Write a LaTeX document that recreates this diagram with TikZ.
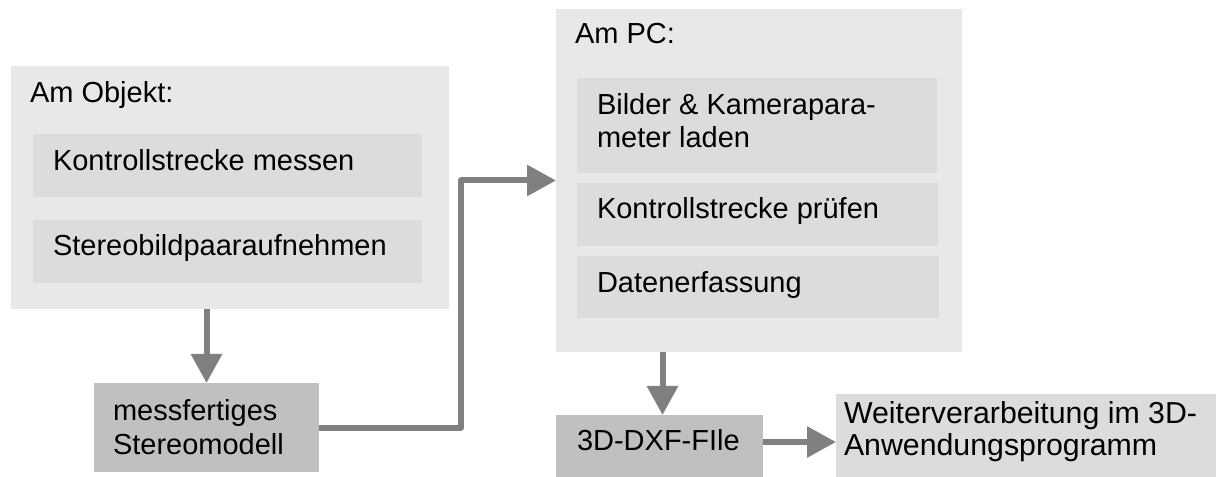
\documentclass[tikz,border=0pt]{standalone}
\usepackage{fontspec}
\setmainfont{Liberation Sans}
\usetikzlibrary{arrows.meta}

\definecolor{panelgray}{HTML}{E8E8E8}
\definecolor{stepgray}{HTML}{DCDCDC}
\definecolor{resultgray}{HTML}{C0C0C0}
\definecolor{flowgray}{HTML}{808080}

\tikzset{
  block/.style={anchor=north west, draw=none, inner sep=0pt, outer sep=0pt},
  panel/.style={block, fill=panelgray},
  stepbox/.style={block, fill=stepgray},
  result/.style={block, fill=resultgray},
  label/.style={anchor=base west, inner sep=0pt, outer sep=0pt,
                font=\fontsize{29bp}{33bp}\selectfont},
  biglabel/.style={label, font=\fontsize{30.3bp}{34bp}\selectfont},
  flow/.style={draw=flowgray, line width=6bp, line join=round,
               -{Triangle[length=29bp,width=30bp]}}
}

\begin{document}
\begin{tikzpicture}[x=1bp, y=-1bp]
\useasboundingbox (0,0) rectangle (1216,477);

% on-site panel
\node[panel, minimum width=438bp, minimum height=243bp] (obj) at (11,66) {};
\node[label] (objtitle) at (30,103) {Am Objekt:};
\node[stepbox, minimum width=389bp, minimum height=63bp] (mess1) at (33,134) {};
\node[label] (mess1t) at (53,171) {Kontrollstrecke messen};
\node[stepbox, minimum width=389bp, minimum height=63bp] (stereo) at (33,220) {};
\node[label] (stereot) at (53,256) {Stereobildpaaraufnehmen};

% stereo model
\node[result, minimum width=225bp, minimum height=89bp] (mess) at (94,383) {};
\node[label] (messt1) at (113,420) {messfertiges};
\node[label] (messt2) at (113,454) {Stereomodell};

% computer panel
\node[panel, minimum width=406bp, minimum height=343bp] (pc) at (556,9) {};
\node[label] (pctitle) at (575,44) {Am PC:};
\node[stepbox, minimum width=360bp, minimum height=95bp] (load) at (577,78) {};
\node[label] (loadt1) at (597,115) {Bilder \& Kamerapara-};
\node[label] (loadt2) at (597,148) {meter laden};
\node[stepbox, minimum width=361bp, minimum height=63bp] (check) at (577,183) {};
\node[label] (checkt) at (597,219) {Kontrollstrecke prüfen};
\node[stepbox, minimum width=362bp, minimum height=62bp] (dat) at (577,256) {};
\node[label] (datt) at (597,293) {Datenerfassung};

% outputs
\node[result, minimum width=207bp, minimum height=62bp] (dxf) at (556,415) {};
\node[label] (dxft) at (577,450) {3D-DXF-FIle};
\node[stepbox, minimum width=381bp, minimum height=83bp] (weiter) at (836,394) {};
\node[biglabel] (weitert1) at (844,423) {Weiterverarbeitung im 3D-};
\node[biglabel] (weitert2) at (844,455) {Anwendungsprogramm};

% connectors
\draw[flow] (mess.north |- obj.south) -- (mess.north);
\draw[flow] (mess.east) -| ([xshift=-95bp]pc.west) -- (pc.west);
\draw[flow] ([xshift=3bp]dxf.north |- pc.south) -- ([xshift=3bp]dxf.north);
\draw[flow] (dxf.east |- 0,442) -- (weiter.west |- 0,442);
\end{tikzpicture}
\end{document}
